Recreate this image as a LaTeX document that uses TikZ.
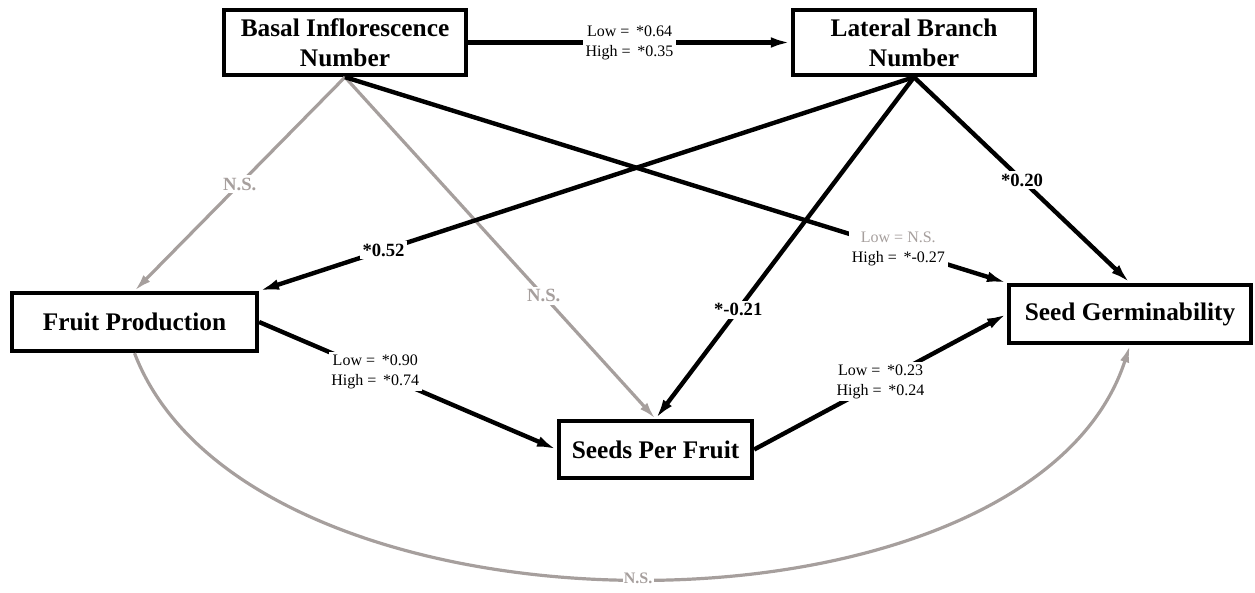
\documentclass[tikz,border=0pt]{standalone}
\usepackage{fontspec}
\setmainfont{Liberation Serif}
\usetikzlibrary{arrows.meta}
\definecolor{nsgray}{RGB}{166,159,157}
\begin{document}
\begin{tikzpicture}[x=0.75pt,y=-0.75pt,
  box/.style={draw=black,line width=3.2pt,fill=white,align=center,inner sep=0pt,
    font=\fontsize{19}{22.5}\selectfont\bfseries},
  sig/.style={draw=black,line width=3.3pt,-{Latex[length=15pt,width=8pt]}},
  nsline/.style={draw=nsgray,line width=2.4pt,-{Latex[length=13pt,width=7pt]}},
  coef/.style={fill=white,inner sep=2pt,font=\fontsize{14}{16}\selectfont\bfseries},
  nslab/.style={coef,text=nsgray},
  pair/.style={fill=white,inner sep=2pt,align=center,font=\fontsize{12}{15}\selectfont},
]
\useasboundingbox (0,0) rectangle (1255,592);

% variables
\node[box,minimum width=181.5pt,minimum height=48.75pt] (basal) at (345,42.5) {Basal Inflorescence\\Number};
\node[box,minimum width=181.5pt,minimum height=48.75pt] (lateral) at (914,42.5) {Lateral Branch\\Number};
\node[box,minimum width=183.75pt,minimum height=43.5pt] (fruit) at (134.5,322) {Fruit Production};
\node[box,minimum width=144.75pt,minimum height=42.75pt] (seeds) at (655.5,449.5) {Seeds Per Fruit};
\node[box,minimum width=181.5pt,minimum height=43.5pt] (germ) at (1130,314) {Seed Germinability};

% non-significant paths
\draw[nsline] (basal.south) -- node[nslab]{N.S.} (fruit.north);
\draw[nsline] (basal.south) -- node[nslab,pos=0.64]{N.S.} (seeds.north);
\draw[nsline] (fruit.south) .. controls (250,655) and (1030,655) ..
  node[nslab,font=\fontsize{12}{14}\selectfont\bfseries,inner sep=1pt]{N.S.} (germ.south);

% significant paths
\draw[sig] (basal) -- node[pair]{Low = \,*0.64\\High = \,*0.35} (lateral);
\draw[sig] (basal.south) -- node[pair,pos=0.836]{\textcolor{nsgray}{Low = N.S.}\\High = \,*-0.27} (germ.north west);
\draw[sig] (lateral.south) -- node[coef,pos=0.81]{*0.52} (fruit.north east);
\draw[sig] (lateral.south) -- node[coef,pos=0.68]{*-0.21} (seeds.north);
\draw[sig] (lateral.south) -- node[coef]{*0.20} (germ.north);
\draw[sig] (fruit.east) -- node[pair,pos=0.39]{Low = \,*0.90\\High = \,*0.74} (seeds.west);
\draw[sig] (seeds.east) -- node[pair]{Low = \,*0.23\\High = \,*0.24} (germ.west);
\end{tikzpicture}
\end{document}
